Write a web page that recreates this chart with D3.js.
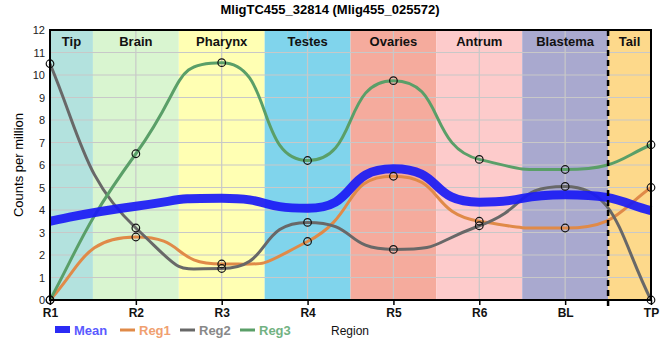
<!DOCTYPE html>
<html lang="en">
<head>
<meta charset="UTF-8">
<script src="https://cdnjs.cloudflare.com/ajax/libs/d3/7.8.5/d3.min.js"></script>
<style>
  body { margin: 0; background: #fff; }
  svg { font-family: "Liberation Sans", Arial, sans-serif; }
</style>
</head>
<body>
<svg id="chart" width="660" height="360"></svg>
<script>
// data
var regions = ["R1", "R2", "R3", "R4", "R5", "R6", "BL", "TP"];
var reg1 = [0, 2.8, 1.6, 2.6, 5.5, 3.5, 3.2, 5.0];
var reg2 = [10.5, 3.2, 1.4, 3.45, 2.25, 3.3, 5.05, 0];
var reg3 = [0, 6.5, 10.55, 6.2, 9.75, 6.25, 5.8, 6.9];
var mean = [3.5, 4.17, 4.52, 4.08, 5.83, 4.35, 4.68, 3.97];

var tissues = ["Tip", "Brain", "Pharynx", "Testes", "Ovaries", "Antrum", "Blastema", "Tail"];
// band edges in region-index units
var bandStart = [0, 0.5, 1.5, 2.5, 3.5, 4.5, 5.5, 6.5];
var bandEnd = [0.5, 1.5, 2.5, 3.5, 4.5, 5.5, 6.5, 7];
var bandColors = ["#b3e2de", "#d9f5d0", "#ffffb3", "#80d4ec", "#f5ab9d", "#fdcbcb", "#a9a9cf", "#fdd98b"];

var yTicks = [0, 1, 2, 3, 4, 5, 6, 7, 8, 9, 10, 11, 12];

var margin = {top: 30, right: 9, bottom: 60, left: 50},
    width = 660 - margin.left - margin.right,
    height = 360 - margin.top - margin.bottom;

// monotone cubic, but with longer control handles so plateaus look flatter
function MonoK(context) { this._context = context; }
MonoK.prototype = {
  areaStart: function() { this._line = 0; },
  areaEnd: function() { this._line = NaN; },
  lineStart: function() { this._xs = []; this._ys = []; },
  point: function(px, py) { this._xs.push(+px); this._ys.push(+py); },
  lineEnd: function() {
    var xs = this._xs, ys = this._ys, n = xs.length, k = 0.6, c = this._context;
    if (!n) return;
    var m = new Array(n);
    for (var i = 1; i < n - 1; i++) {
      var h0 = xs[i] - xs[i - 1], h1 = xs[i + 1] - xs[i];
      var s0 = (ys[i] - ys[i - 1]) / h0, s1 = (ys[i + 1] - ys[i]) / h1;
      var p = (s0 * h1 + s1 * h0) / (h0 + h1);
      m[i] = (Math.sign(s0) + Math.sign(s1)) * Math.min(Math.abs(s0), Math.abs(s1), 0.5 * Math.abs(p)) || 0;
    }
    if (n > 2) {
      var ha = xs[1] - xs[0], hb = xs[n - 1] - xs[n - 2];
      m[0] = (3 * (ys[1] - ys[0]) / ha - m[1]) / 2;
      m[n - 1] = (3 * (ys[n - 1] - ys[n - 2]) / hb - m[n - 2]) / 2;
    } else {
      m[0] = m[n - 1] = (ys[n - 1] - ys[0]) / (xs[n - 1] - xs[0] || 1);
    }
    c.moveTo(xs[0], ys[0]);
    for (var j = 0; j < n - 1; j++) {
      var dx = (xs[j + 1] - xs[j]) * k;
      // keep end handles from overshooting
      var a = (j === 0) ? dx * 0.6 : dx, b = (j === n - 2) ? dx * 0.6 : dx;
      c.bezierCurveTo(xs[j] + a, ys[j] + a * m[j], xs[j + 1] - b, ys[j + 1] - b * m[j + 1], xs[j + 1], ys[j + 1]);
    }
  }
};
function curveMonoK(context) { return new MonoK(context); }

var svg = d3.select("#chart");
var g = svg.append("g").attr("transform", "translate(" + margin.left + "," + margin.top + ")");

var x = d3.scaleLinear().domain([0, regions.length - 1]).range([0, width]);
var y = d3.scaleLinear().domain([0, 12]).range([height, 0]);

// background bands
g.selectAll(".band")
  .data(tissues)
  .enter().append("rect")
  .attr("x", (d, i) => x(bandStart[i]))
  .attr("width", (d, i) => x(bandEnd[i]) - x(bandStart[i]))
  .attr("y", 0)
  .attr("height", height)
  .style("fill", (d, i) => bandColors[i]);

// grid
g.append("g").selectAll("line")
  .data(yTicks)
  .enter().append("line")
  .attr("x1", 0).attr("x2", width)
  .attr("y1", d => y(d)).attr("y2", d => y(d))
  .style("stroke", "#c8c8c8").style("stroke-width", 1.2);

g.append("g").selectAll("line")
  .data(regions)
  .enter().append("line")
  .attr("x1", (d, i) => x(i)).attr("x2", (d, i) => x(i))
  .attr("y1", 0).attr("y2", height)
  .style("stroke", "#c8c8c8").style("stroke-width", 1.2);

// band labels
g.selectAll(".bandLabel")
  .data(tissues)
  .enter().append("text")
  .attr("x", (d, i) => (x(bandStart[i]) + x(bandEnd[i])) / 2)
  .attr("y", 16)
  .attr("text-anchor", "middle")
  .style("font-size", "13px")
  .style("font-weight", "bold")
  .style("fill", "#111")
  .text(d => d);

// lines
var line = d3.line()
  .x((d, i) => x(i))
  .y(d => y(d))
  .curve(curveMonoK);

var series = [
  {name: "Reg1", values: reg1, color: "#e08a48", text: "#f0a070"},
  {name: "Reg2", values: reg2, color: "#686868", text: "#888888"},
  {name: "Reg3", values: reg3, color: "#5a9f68", text: "#72b282"}
];

series.forEach(function(s) {
  g.append("path")
    .attr("d", line(s.values))
    .style("fill", "none")
    .style("stroke", s.color)
    .style("stroke-width", 3);
});

g.append("path")
  .attr("d", line(mean))
  .style("fill", "none")
  .style("stroke", "#1a1af5")
  .style("stroke-opacity", 0.92)
  .style("stroke-width", 9);

series.forEach(function(s) {
  g.append("g").selectAll("circle")
    .data(s.values)
    .enter().append("circle")
    .attr("cx", (d, i) => x(i))
    .attr("cy", d => y(d))
    .attr("r", 3.8)
    .style("fill", "none")
    .style("stroke", "#111")
    .style("stroke-width", 1.2);
});

// dashed separator before the tail
g.append("line")
  .attr("x1", x(6.5)).attr("x2", x(6.5))
  .attr("y1", 0).attr("y2", height + 6)
  .style("stroke", "#000")
  .style("stroke-width", 2.5)
  .style("stroke-dasharray", "6,4");

// frame
g.append("rect")
  .attr("x", 0).attr("y", 0)
  .attr("width", width).attr("height", height)
  .style("fill", "none")
  .style("stroke", "#000")
  .style("stroke-width", 2);

// axes
var yAxis = d3.axisLeft(y).tickValues(yTicks).tickSize(0).tickPadding(5);
var yG = g.append("g").call(yAxis);
yG.select(".domain").remove();
yG.selectAll("text").style("font-size", "11px").style("fill", "#222");

var xAxis = d3.axisBottom(x)
  .tickValues(d3.range(regions.length))
  .tickFormat((d, i) => regions[i])
  .tickSize(5)
  .tickPadding(3);
var xG = g.append("g").attr("transform", "translate(0," + height + ")").call(xAxis);
xG.select(".domain").remove();
xG.selectAll("line").style("stroke", "#000").style("stroke-width", 1.5);
xG.selectAll("text").style("font-size", "12px").style("font-weight", "bold").style("fill", "#111");

// title and axis label
svg.append("text")
  .attr("x", 330).attr("y", 14)
  .attr("text-anchor", "middle")
  .style("font-size", "13px")
  .style("font-weight", "bold")
  .text("MligTC455_32814 (Mlig455_025572)");

svg.append("text")
  .attr("transform", "translate(23," + (margin.top + height / 2) + ") rotate(-90)")
  .attr("text-anchor", "middle")
  .style("font-size", "13px")
  .text("Counts per million");

// legend
var legend = svg.append("g").attr("transform", "translate(0,330)");
legend.append("rect")
  .attr("x", 55).attr("y", -4).attr("width", 15).attr("height", 7)
  .style("fill", "#2b2bf5");
legend.append("text")
  .attr("x", 74).attr("y", 5)
  .style("font-size", "13px").style("font-weight", "bold")
  .style("fill", "#5a5aff")
  .text("Mean");

var legX = [120, 180, 240];
series.forEach(function(s, i) {
  legend.append("line")
    .attr("x1", legX[i]).attr("x2", legX[i] + 15)
    .attr("y1", 0).attr("y2", 0)
    .style("stroke", s.color).style("stroke-width", 3);
  legend.append("text")
    .attr("x", legX[i] + 19).attr("y", 5)
    .style("font-size", "13px").style("font-weight", "bold")
    .style("fill", s.text)
    .text(s.name);
});

legend.append("text")
  .attr("x", 331).attr("y", 5)
  .style("font-size", "12px")
  .style("fill", "#111")
  .text("Region");
</script>
</body>
</html>
